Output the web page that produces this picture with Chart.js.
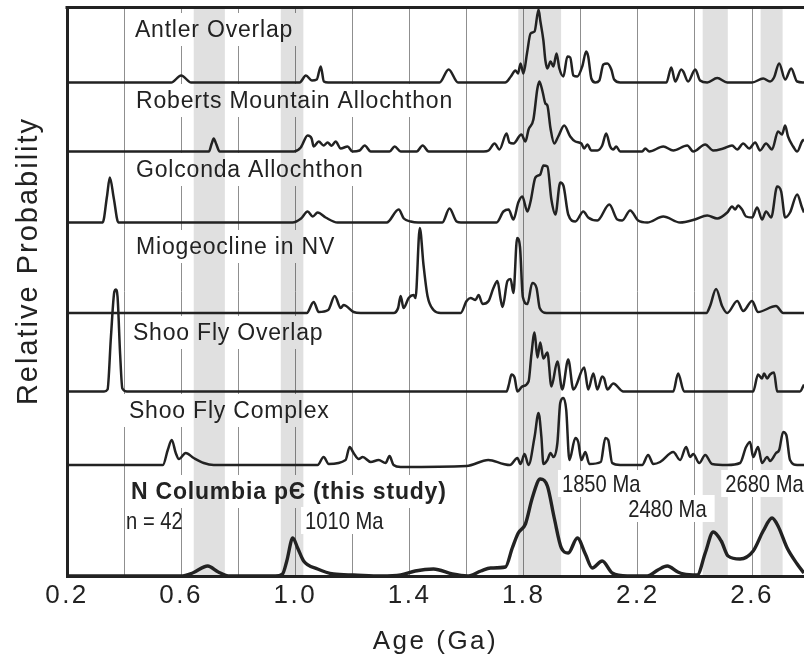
<!DOCTYPE html>
<html>
<head>
<meta charset="utf-8">
<script src="https://cdn.jsdelivr.net/npm/chart.js@4.4.1/dist/chart.umd.min.js"></script>
<style>
  html, body { margin: 0; padding: 0; background: #fff; }
</style>
</head>
<body>
<canvas id="detrital" width="804" height="657"></canvas>
<script>
// detrital zircon age probability curves, [age in Ga, relative probability]
const antler = [[0.2,0],[0.565,0],[0.6,7],[0.635,0],[1.015,0],[1.037,7],[1.058,2],[1.075,3],[1.089,16],[1.1,1],[1.115,0],
  [1.505,0],[1.537,13],[1.57,0],[1.735,0],[1.755,6],[1.771,12],[1.78,9],[1.789,19],[1.799,9],[1.812,30],[1.824,49],[1.838,51],
  [1.852,73],[1.858,62],[1.869,42],[1.876,22],[1.883,14],[1.894,21],[1.904,16],[1.915,29],[1.925,14],[1.939,6],[1.953,26],
  [1.963,25],[1.974,7],[1.988,6],[2.005,16],[2.019,31],[2.026,26],[2.037,4],[2.051,0],[2.065,2],[2.079,18],[2.093,19],
  [2.107,13],[2.117,3],[2.138,0],[2.3,0],[2.317,15],[2.331,1],[2.352,13],[2.359,11],[2.376,1],[2.401,13],[2.418,2],
  [2.443,0],[2.478,4.5],[2.513,0],[2.6,0],[2.639,4],[2.663,1],[2.677,5],[2.695,19],[2.716,3],[2.737,14],[2.758,1],[2.782,0]];

const roberts = [[0.2,0],[0.697,0],[0.707,8],[0.714,13],[0.722,8],[0.735,0],[0.995,0],[1.019,4],[1.043,16],[1.057,13],
  [1.064,5],[1.082,10],[1.099,6],[1.113,9],[1.127,5.7],[1.141,10],[1.159,3],[1.183,5],[1.2,0],[1.225,1],[1.243,6],[1.264,0],
  [1.33,0],[1.348,5],[1.369,0],[1.425,0],[1.446,6],[1.467,0],[1.66,0],[1.677,1],[1.698,8],[1.715,2],[1.74,18],[1.75,9],
  [1.764,8],[1.792,17],[1.806,10],[1.817,22],[1.834,32],[1.848,63],[1.855,70],[1.866,60],[1.876,48],[1.883,46],[1.894,23],
  [1.907,8],[1.921,15],[1.942,26],[1.963,15],[1.981,10],[2.002,8],[2.012,3],[2.023,7],[2.037,1],[2.058,1],[2.075,6],
  [2.089,18],[2.103,5],[2.114,2],[2.124,5],[2.138,0],[2.215,0],[2.226,3],[2.24,0],[2.289,5],[2.324,1],[2.373,6],[2.394,0],
  [2.436,7],[2.464,1],[2.499,3],[2.53,6],[2.548,2],[2.569,8],[2.59,3],[2.611,9],[2.628,1],[2.649,8],[2.67,2],[2.691,20],
  [2.705,17],[2.716,26],[2.726,15],[2.744,5],[2.758,0],[2.775,10],[2.782,12]];

const golconda = [[0.2,0],[0.325,0],[0.34,26],[0.35,45],[0.364,24],[0.38,0],[0.99,0],[1.02,4],[1.043,11],[1.061,6],
  [1.078,10],[1.106,5],[1.148,0],[1.32,0],[1.362,13],[1.38,4],[1.404,1],[1.43,0],[1.515,0],[1.54,14],[1.565,1],[1.58,0],
  [1.705,0],[1.729,11],[1.747,13],[1.764,3],[1.781,20],[1.795,26],[1.813,11],[1.824,21],[1.841,45],[1.858,48],[1.869,57],
  [1.883,56],[1.897,23],[1.911,8],[1.928,40],[1.939,37],[1.956,8],[1.981,1],[2.009,11],[2.026,5],[2.058,2],[2.1,18],
  [2.128,3],[2.145,2],[2.173,12],[2.201,2],[2.233,0],[2.289,6],[2.348,0],[2.4,3],[2.443,7],[2.478,4],[2.513,10],[2.53,16],
  [2.541,13],[2.551,17],[2.565,13],[2.579,6],[2.6,5],[2.618,15],[2.635,3],[2.649,11],[2.667,5],[2.688,36],[2.702,31],
  [2.716,5],[2.733,10],[2.758,28],[2.775,15],[2.782,10]];

const miogeocline = [[0.2,0],[1.04,0],[1.064,11],[1.082,1],[1.115,3],[1.138,17],[1.159,5],[1.169,8],[1.204,1],[1.229,0],
  [1.344,0],[1.36,5],[1.369,17],[1.379,5],[1.397,15],[1.414,18],[1.421,15],[1.436,85],[1.449,48],[1.463,17],[1.484,3],
  [1.509,0],[1.579,0],[1.6,12],[1.614,15],[1.631,13],[1.642,18],[1.656,9],[1.677,12],[1.694,25],[1.708,32],[1.719,14],
  [1.726,6],[1.743,32],[1.754,34],[1.764,20],[1.777,75],[1.787,66],[1.797,16],[1.813,9],[1.83,30],[1.845,25],[1.856,5],
  [1.88,0],[2.44,0],[2.453,7],[2.474,24],[2.495,7],[2.513,0],[2.548,12],[2.569,2],[2.6,12],[2.621,1],[2.684,7],[2.709,0],
  [2.782,0]];

const shooFlyOverlap = [[0.2,0],[0.33,0],[0.342,2],[0.354,55],[0.366,100],[0.371,102],[0.377,95],[0.386,38],[0.394,3],
  [0.41,0],[1.74,0],[1.749,8],[1.757,17],[1.768,14],[1.778,0],[1.795,5],[1.817,10],[1.827,37],[1.838,59],[1.848,34],
  [1.858,49],[1.869,33],[1.883,39],[1.897,5],[1.918,30],[1.935,2],[1.956,32],[1.974,2],[2.012,24],[2.026,2],[2.044,18],
  [2.058,2],[2.075,15],[2.082,13],[2.093,2],[2.114,8],[2.149,0],[2.324,0],[2.341,18],[2.362,0],[2.604,0],[2.621,17],
  [2.635,13],[2.642,18],[2.653,13],[2.663,17],[2.677,19],[2.688,0],[2.768,0],[2.782,7]];

const shooFlyComplex = [[0.2,0],[0.536,0],[0.553,15],[0.567,25],[0.581,12],[0.592,6],[0.616,12],[0.644,7],[0.679,2],
  [0.714,0],[1.078,0],[1.099,8],[1.117,1],[1.176,5],[1.19,18],[1.204,12],[1.222,6],[1.236,8],[1.264,3],[1.292,5],[1.316,2],
  [1.33,9],[1.344,0],[1.369,-2],[1.6,-1],[1.676,5],[1.729,1],[1.752,0],[1.778,7],[1.789,1],[1.803,11],[1.817,0],[1.838,28],
  [1.852,52],[1.862,28],[1.869,1],[1.883,5],[1.894,12],[1.904,8],[1.918,22],[1.928,62],[1.939,67],[1.949,55],[1.96,5],
  [1.981,27],[1.991,23],[2.002,5],[2.016,13],[2.03,1],[2.07,3],[2.086,27],[2.096,25],[2.11,2],[2.138,0],[2.215,0],
  [2.236,10],[2.254,1],[2.278,3],[2.324,13],[2.348,5],[2.369,18],[2.383,8],[2.394,11],[2.415,2],[2.436,10],[2.46,1],
  [2.513,0],[2.558,2],[2.579,18],[2.593,23],[2.604,8],[2.621,18],[2.635,2],[2.653,8],[2.663,4],[2.684,12],[2.695,15],
  [2.709,33],[2.72,30],[2.733,5],[2.758,0],[2.782,0]];

const northColumbia = [[0.2,0],[0.6,0],[0.64,3],[0.693,10],[0.73,4],[0.77,0],[0.93,0],[0.955,2],[0.97,15],[0.991,38],
  [1.008,28],[1.029,15],[1.078,7],[1.134,2],[1.204,1],[1.3,0],[1.369,1],[1.42,5],[1.484,7],[1.55,2],[1.603,0],[1.65,5],
  [1.684,8],[1.736,9],[1.76,28],[1.781,43],[1.806,52],[1.83,78],[1.858,97],[1.883,90],[1.907,58],[1.932,28],[1.956,23],
  [1.988,38],[2.016,22],[2.04,8],[2.075,15],[2.11,3],[2.163,0],[2.233,0],[2.27,6],[2.303,10],[2.34,4],[2.359,2],[2.408,1],
  [2.436,23],[2.464,44],[2.492,35],[2.516,20],[2.558,17],[2.604,25],[2.639,45],[2.67,58],[2.691,50],[2.723,28],[2.758,12],
  [2.782,3]];

const sampleNames = ['Antler Overlap', 'Roberts Mountain Allochthon', 'Golconda Allochthon', 'Miogeocline in NV',
  'Shoo Fly Overlap', 'Shoo Fly Complex', 'N Columbia p\u0404 (this study)'];
const peakLabels = ['1010 Ma', '1850 Ma', '2480 Ma', '2680 Ma'];
const sampleSize = 'n = 42';
// grey bands, [from, to] in Ga
const bands = [[0.644,0.753],[0.949,1.028],[1.781,1.931],[2.427,2.515],[2.63,2.707]];

// layout: where each curve sits in the stack and where the words go (x in Ga, y in stack units)
const curves = [antler, roberts, golconda, miogeocline, shooFlyOverlap, shooFlyComplex, northColumbia];
const lift = [493.5, 424.5, 353.5, 263, 184.5, 111, 0];
const nameAt = [[0.438,539],[0.442,468],[0.442,399],[0.442,322],[0.431,236],[0.417,158],[0.424,77]];
const peakAt = [[1.034,47],[1.934,84],[2.166,59],[2.506,84]];
const sizeAt = [0.407,47];

const ink = '#222';
const sans = '"Liberation Sans", Arial, Helvetica, sans-serif';

const datasets = curves.map((c, i) => ({
  label: sampleNames[i],
  data: c.map(p => ({ x: p[0], y: p[1] + lift[i] })),
  borderColor: ink,
  borderWidth: i === 6 ? 3.4 : 2.5,
  pointRadius: 0,
  fill: false,
  cubicInterpolationMode: 'monotone',
}));

function spaced(ctx, px) { if ('letterSpacing' in ctx) ctx.letterSpacing = px; }

const decor = {
  id: 'decor',
  beforeDraw(chart) {
    spaced(chart.ctx, '2.5px');   // wide tracking on the axis numbers
  },
  beforeDatasetsDraw(chart) {
    const { ctx, chartArea: a, scales: { x, y } } = chart;
    spaced(ctx, '0px');
    ctx.save();
    ctx.fillStyle = '#fff';
    ctx.font = '23px ' + sans;
    sampleNames.forEach((s, i) => {
      const px = x.getPixelForValue(nameAt[i][0]), py = y.getPixelForValue(nameAt[i][1]);
      const w = ctx.measureText(s).width + s.length * 0.8;
      ctx.fillRect(px - 5, py - 24, w + 10, 33);
    });
    ctx.globalCompositeOperation = 'multiply';
    ctx.fillStyle = '#e0e0e0';
    bands.forEach(([lo, hi]) => {
      const l = x.getPixelForValue(lo), r = x.getPixelForValue(hi);
      ctx.fillRect(l, a.top, r - l, a.bottom - a.top);
    });
    ctx.globalCompositeOperation = 'source-over';
    ctx.fillStyle = '#fff';
    ctx.font = '24px ' + sans;
    peakLabels.forEach((s, i) => {
      const px = x.getPixelForValue(peakAt[i][0]), py = y.getPixelForValue(peakAt[i][1]);
      const w = ctx.measureText(s).width * 0.84;
      ctx.fillRect(px - 4, py - 22, w + 12, 27);
    });
    ctx.restore();
  },
  afterDatasetsDraw(chart) {
    const { ctx, scales: { x, y } } = chart;
    ctx.save();
    ctx.fillStyle = ink;
    ctx.textAlign = 'left';
    ctx.textBaseline = 'alphabetic';
    sampleNames.forEach((s, i) => {
      ctx.font = (i === 6 ? 'bold ' : '') + '23px ' + sans;
      spaced(ctx, '0.8px');
      ctx.fillText(s, x.getPixelForValue(nameAt[i][0]), y.getPixelForValue(nameAt[i][1]));
    });
    spaced(ctx, '0px');
    ctx.font = '24px ' + sans;
    const narrow = (s, gx, gy) => {
      ctx.save();
      ctx.translate(x.getPixelForValue(gx), y.getPixelForValue(gy));
      ctx.scale(0.84, 1);
      ctx.fillText(s, 0, 0);
      ctx.restore();
    };
    peakLabels.forEach((s, i) => narrow(s, peakAt[i][0], peakAt[i][1]));
    narrow(sampleSize, sizeAt[0], sizeAt[1]);
    ctx.restore();
  },
  afterDraw(chart) {
    const { ctx, chartArea: a } = chart;
    ctx.save();
    ctx.strokeStyle = ink;
    ctx.lineWidth = 3;
    ctx.beginPath();
    ctx.moveTo(a.left - 1.5, a.top - 0.5);
    ctx.lineTo(a.right, a.top - 0.5);
    ctx.stroke();
    ctx.translate(37, 261);
    ctx.rotate(-Math.PI / 2);
    ctx.font = '29px ' + sans;
    spaced(ctx, '2px');
    ctx.fillStyle = ink;
    ctx.textAlign = 'center';
    ctx.textBaseline = 'alphabetic';
    ctx.fillText('Relative Probability', 0, 0);
    ctx.restore();
  }
};

new Chart('detrital', {
  type: 'line',
  data: { datasets: datasets },
  plugins: [decor],
  options: {
    responsive: false,
    animation: false,
    events: [],
    layout: { padding: { top: 8, left: 0, right: 0, bottom: 0 } },
    plugins: { legend: { display: false }, tooltip: { enabled: false } },
    scales: {
      x: {
        type: 'linear',
        min: 0.2,
        max: 2.782,
        afterFit: s => { s.height = 81; },
        grid: { color: '#8f8f8f', lineWidth: 1, drawTicks: false },
        border: { display: true, color: ink, width: 3 },
        ticks: {
          stepSize: 0.2,
          includeBounds: false,
          autoSkip: false,
          maxRotation: 0,
          padding: 4,
          color: ink,
          font: { family: sans, size: 26 },
          callback: v => {
            const k = Math.round(v * 10);
            if (Math.abs(v * 10 - k) > 0.01) return null;
            return (k - 2) % 4 === 0 ? (k / 10).toFixed(1) : '';
          }
        },
        title: { display: true, text: 'Age (Ga)', color: ink, font: { family: sans, size: 26 }, padding: { top: 0, bottom: 0 } }
      },
      y: {
        min: 0,
        max: 568,
        afterFit: s => { s.width = 67; },
        grid: { display: false },
        ticks: { display: false },
        border: { display: true, color: ink, width: 3 }
      }
    }
  }
});
</script>
</body>
</html>
